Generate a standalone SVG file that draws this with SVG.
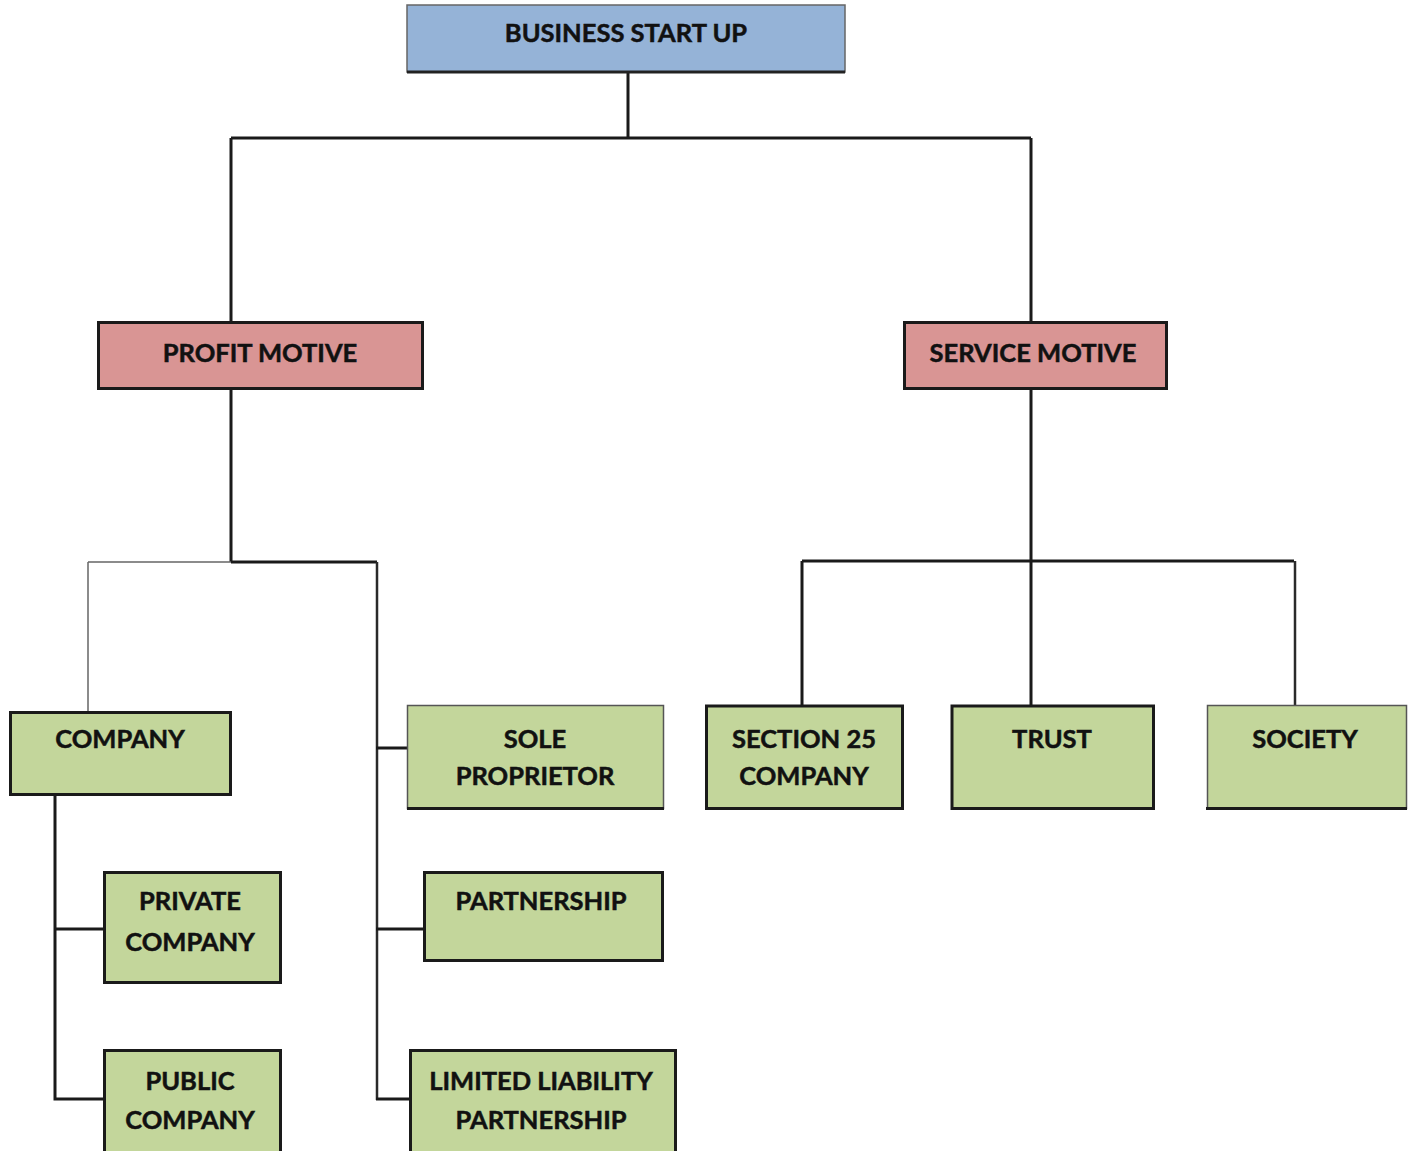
<svg xmlns="http://www.w3.org/2000/svg" width="1411" height="1151" viewBox="0 0 1411 1151">
<style>
  .lbl { font-family: Lato, "Open Sans", "Liberation Sans", sans-serif; font-weight: 700; font-size: 25.5px; fill: #111; stroke: #111; stroke-width: 0.5; text-anchor: middle; }
  .blue { fill: #95B3D7; }
  .red { fill: #D99594; stroke: #1a1a1a; stroke-width: 3; }
  .green { fill: #C3D69B; stroke: #1a1a1a; stroke-width: 3; }
  .greenThin { fill: #C3D69B; stroke: #555; stroke-width: 1.5; }
  .edge { fill: none; stroke: #1a1a1a; stroke-width: 3; }
  .edgeThin { fill: none; stroke: #666; stroke-width: 1.5; }
  .edgeMid { fill: none; stroke: #2a2a2a; stroke-width: 2.5; }
</style>
<rect width="1411" height="1151" fill="#ffffff"/>

<g id="connectors">
  <path class="edge" d="M628 72 V138 M231 138 H1031 M231 138 V321 M1031 138 V321"/>
  <path class="edge" d="M231 389 V562 M231 562 H377"/>
  <path class="edgeThin" d="M88 562 H231 M88 562 V711"/>
  <path class="edgeMid" d="M377 562 V1100"/>
  <path class="edge" d="M376 748 H407 M376 929 H423 M376 1099 H409"/>
  <path class="edge" d="M55 795 V1099 H103 M55 929 H103"/>
  <path class="edge" d="M1031 389 V705 M802 561 H1294 M802 561 V705"/>
  <path class="edgeMid" d="M1295 561 V705"/>
</g>

<g id="business-start-up">
  <rect class="blue" x="407" y="5" width="438" height="67" stroke="#666" stroke-width="1.5"/>
  <line x1="407" y1="72" x2="845" y2="72" stroke="#222" stroke-width="3"/>
  <text class="lbl" x="626" y="42">BUSINESS START UP</text>
</g>

<g id="profit-motive">
  <rect class="red" x="98.5" y="322.5" width="324" height="66"/>
  <text class="lbl" x="260" y="362">PROFIT MOTIVE</text>
</g>

<g id="service-motive">
  <rect class="red" x="904.5" y="322.5" width="262" height="66"/>
  <text class="lbl" x="1033" y="362">SERVICE MOTIVE</text>
</g>

<g id="company">
  <rect class="green" x="10.5" y="712.5" width="220" height="82"/>
  <text class="lbl" x="120" y="748">COMPANY</text>
</g>

<g id="private-company">
  <rect class="green" x="104.5" y="872.5" width="176" height="110"/>
  <text class="lbl" x="190" y="910">PRIVATE</text>
  <text class="lbl" x="190" y="951">COMPANY</text>
</g>

<g id="public-company">
  <rect class="green" x="104.5" y="1050.5" width="176" height="110"/>
  <text class="lbl" x="190" y="1090">PUBLIC</text>
  <text class="lbl" x="190" y="1129">COMPANY</text>
</g>

<g id="sole-proprietor">
  <rect class="greenThin" x="407.5" y="705.5" width="256" height="103"/>
  <line x1="407" y1="808.5" x2="664" y2="808.5" stroke="#1a1a1a" stroke-width="3"/>
  <text class="lbl" x="535" y="748">SOLE</text>
  <text class="lbl" x="535" y="785">PROPRIETOR</text>
</g>

<g id="partnership">
  <rect class="green" x="424.5" y="872.5" width="238" height="88"/>
  <text class="lbl" x="541" y="910">PARTNERSHIP</text>
</g>

<g id="llp">
  <rect class="green" x="410.5" y="1050.5" width="265" height="110"/>
  <text class="lbl" x="541" y="1090">LIMITED LIABILITY</text>
  <text class="lbl" x="541" y="1129">PARTNERSHIP</text>
</g>

<g id="section-25-company">
  <rect class="green" x="706.5" y="706" width="196" height="102.5" stroke-width="2.5"/>
  <text class="lbl" x="804" y="748">SECTION 25</text>
  <text class="lbl" x="804" y="785">COMPANY</text>
</g>

<g id="trust">
  <rect class="green" x="952" y="706" width="201.5" height="102.5" stroke-width="2.5"/>
  <text class="lbl" x="1052" y="748">TRUST</text>
</g>

<g id="society">
  <rect class="greenThin" x="1207.5" y="705.5" width="199" height="103"/>
  <line x1="1206" y1="808.5" x2="1407" y2="808.5" stroke="#1a1a1a" stroke-width="3"/>
  <text class="lbl" x="1305" y="748">SOCIETY</text>
</g>
</svg>
